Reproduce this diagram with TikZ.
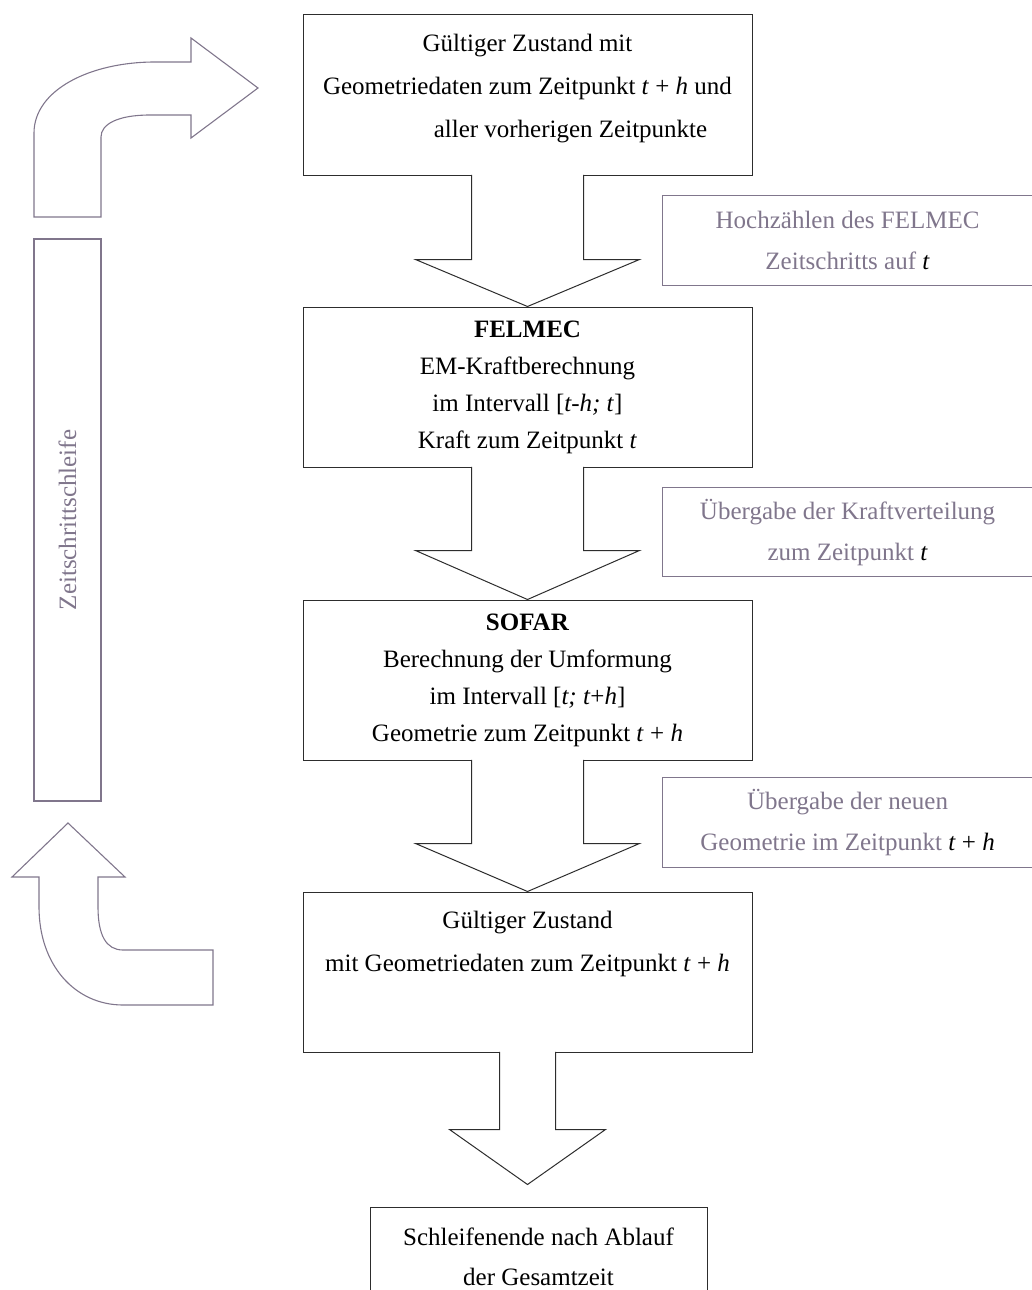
\documentclass[tikz,border=0pt]{standalone}
\usepackage{fontspec}
\setmainfont{Liberation Serif}
\usetikzlibrary{positioning,calc}
\definecolor{lila}{RGB}{128,118,140}
\definecolor{dunkel}{RGB}{45,45,45}
\newcommand{\zt}{\textit{t}}
\newcommand{\zh}{\textit{h}}
\tikzset{
  txt/.style={font=\fontsize{25}{43}\selectfont},
  mainbox/.style={draw=dunkel,line width=1pt,minimum width=449pt,
    minimum height=160pt,inner sep=0pt,align=center,txt},
  tightbox/.style={mainbox,font=\fontsize{25}{37}\selectfont},
  endbox/.style={draw=dunkel,line width=1pt,minimum width=337pt,
    minimum height=100pt,inner sep=0pt,align=center,
    font=\fontsize{25}{40}\selectfont},
  notebox/.style={draw=lila,line width=1.2pt,minimum width=370pt,
    minimum height=90pt,inner sep=0pt,align=center,text=lila,anchor=north west,
    font=\fontsize{25}{41}\selectfont},
  blockarr/.style={draw=dunkel,line width=1pt,fill=white,line join=miter},
  bentarr/.style={draw=lila,line width=1.1pt,line join=miter},
  loopbox/.style={draw=lila,line width=1.1pt,rotate=90,minimum width=562pt,
    minimum height=67pt,inner sep=0pt,text=lila,txt},
  node distance=131pt,
}
\begin{document}
\begin{tikzpicture}[x=1pt,y=-1pt]
  \useasboundingbox (0,0) rectangle (1032,1290);
  % Hauptkette
  \node[mainbox,text depth=18pt] (b1) at (527.5,95)
    {G\"ultiger Zustand mit\\Geometriedaten zum Zeitpunkt \zt{} + \zh{} und\\
     \hspace*{86pt}aller vorherigen Zeitpunkte};
  \node[tightbox,below=of b1] (b2)
    {\textbf{FELMEC}\\EM-Kraftberechnung\\im Intervall [\textit{t-h; t}]\\
     Kraft zum Zeitpunkt \zt};
  \node[tightbox,below=132pt of b2] (b3)
    {\textbf{SOFAR}\\Berechnung der Umformung\\im Intervall [\textit{t; t}+\zh]\\
     Geometrie zum Zeitpunkt \zt{} + \zh};
  \node[mainbox,below=of b3,text depth=62pt] (b4)
    {G\"ultiger Zustand\\mit Geometriedaten zum Zeitpunkt \zt{} + \zh};
  \node[endbox,below=154pt of b4,xshift=11pt] (b5)
    {Schleifenende nach Ablauf\\der Gesamtzeit};
  % Blockpfeile
  \draw[blockarr] ($(b1.south)+(-56,-0.6)$) -- ($(b2.north)+(-56,-47)$)
    -- ($(b2.north)+(-112,-47)$) -- (b2.north) -- ($(b2.north)+(112,-47)$)
    -- ($(b2.north)+(56,-47)$) -- ($(b1.south)+(56,-0.6)$);
  \draw[blockarr] ($(b2.south)+(-56,-0.6)$) -- ($(b3.north)+(-56,-49)$)
    -- ($(b3.north)+(-112,-49)$) -- (b3.north) -- ($(b3.north)+(112,-49)$)
    -- ($(b3.north)+(56,-49)$) -- ($(b2.south)+(56,-0.6)$);
  \draw[blockarr] ($(b3.south)+(-56,-0.6)$) -- ($(b4.north)+(-56,-48)$)
    -- ($(b4.north)+(-112,-48)$) -- (b4.north) -- ($(b4.north)+(112,-48)$)
    -- ($(b4.north)+(56,-48)$) -- ($(b3.south)+(56,-0.6)$);
  \coordinate (tip) at ($(b4.south)+(0,132)$);
  \draw[blockarr] ($(b4.south)+(-28,-0.6)$) -- ($(tip)+(-28,-55)$)
    -- ($(tip)+(-78,-55)$) -- (tip) -- ($(tip)+(78,-55)$)
    -- ($(tip)+(28,-55)$) -- ($(b4.south)+(28,-0.6)$);
  % Hinweise
  \node[notebox] (n1) at (662,195)
    {Hochz\"ahlen des FELMEC\\Zeitschritts auf \textcolor{black}{\zt}};
  \node[notebox,minimum height=89pt] (n2) at (662,487)
    {\"Ubergabe der Kraftverteilung\\zum Zeitpunkt \textcolor{black}{\zt}};
  \node[notebox] (n3) at (662,777)
    {\"Ubergabe der neuen\\Geometrie im Zeitpunkt \textcolor{black}{\zt{} + \zh}};
  % Schleife
  \node[loopbox] (loop) at (67.5,520) {Zeitschrittschleife};
  \draw[bentarr] (34,217) -- (34,133) .. controls (34,90) and (90,62) .. (155,62)
    -- (191,62) -- (191,38) -- (258,88) -- (191,138) -- (191,115) -- (150,115)
    .. controls (118,115) and (101,124) .. (101,137) -- (101,217) -- cycle;
  \draw[bentarr] (68,823) -- (125,877) -- (98,877) -- (98,907)
    .. controls (98,935) and (106,950) .. (123,950) -- (213,950) -- (213,1005)
    -- (123,1005) .. controls (75,1005) and (39,965) .. (39,907) -- (39,877)
    -- (12,877) -- cycle;
\end{tikzpicture}
\end{document}
